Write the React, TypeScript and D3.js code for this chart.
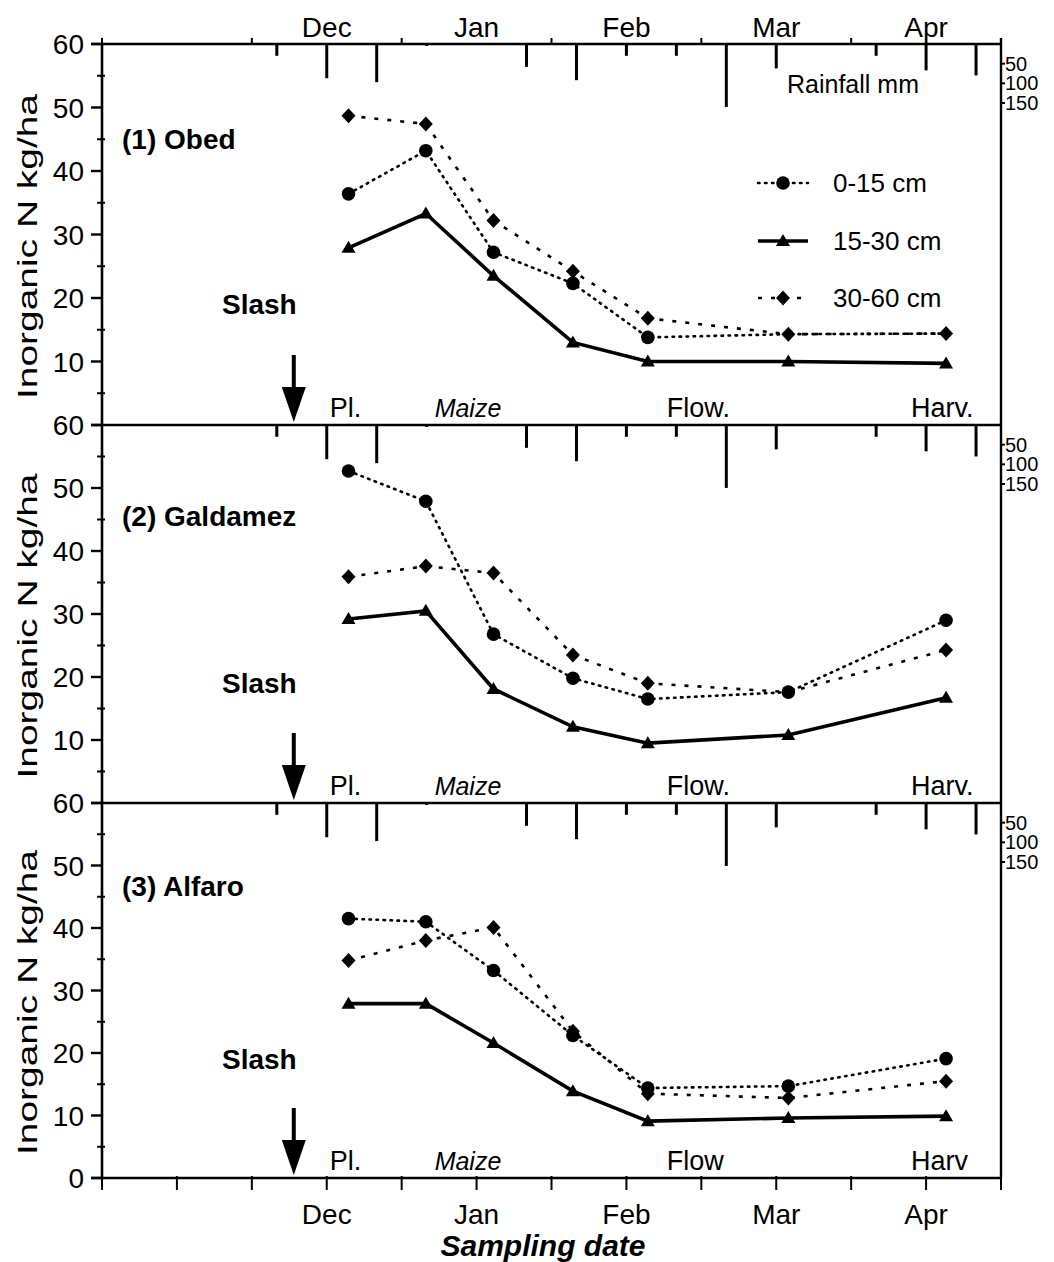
import React from "react";
import * as d3 from "d3";

// Months shown on the time axis (November .. April) and their lengths
const monthNames = ["Nov", "Dec", "Jan", "Feb", "Mar", "Apr"];
const monthDays = [30, 31, 31, 28, 31, 30];
const axisMonthLabels = ["Dec", "Jan", "Feb", "Mar", "Apr"];

// Soil sampling dates
const samplingDates = ["Dec 21", "Jan 6", "Jan 20", "Feb 5", "Feb 19", "Mar 19", "Apr 20"];

// Rainfall per 10-day period, Dec (1st dekad) .. Apr (3rd dekad)
const rainMonths = ["Dec", "Jan", "Feb", "Mar", "Apr"];
const rainfallMm = [30, 87, 97, 5, 0, 58, 92, 30, 30, 160, 62, 0, 30, 67, 80];
const rainTicks = [50, 100, 150];

// Inorganic N (kg/ha) by soil depth
const obed0to15 = [36.4, 43.2, 27.2, 22.3, 13.8, 14.3, 14.4];
const obed15to30 = [27.9, 33.3, 23.5, 13.0, 10.0, 10.0, 9.7];
const obed30to60 = [48.7, 47.4, 32.2, 24.2, 16.8, 14.3, 14.4];

const galdamez0to15 = [52.7, 47.9, 26.8, 19.8, 16.5, 17.6, 29.0];
const galdamez15to30 = [29.2, 30.5, 18.1, 12.1, 9.5, 10.8, 16.7];
const galdamez30to60 = [35.9, 37.6, 36.5, 23.5, 19.0, 17.6, 24.3];

const alfaro0to15 = [41.5, 41.0, 33.2, 22.8, 14.4, 14.7, 19.1];
const alfaro15to30 = [27.9, 27.9, 21.6, 13.9, 9.1, 9.6, 9.9];
const alfaro30to60 = [34.8, 38.0, 40.1, 23.5, 13.5, 12.8, 15.5];

const siteNames = ["(1) Obed", "(2) Galdamez", "(3) Alfaro"];
const depthLabels = ["0-15 cm", "15-30 cm", "30-60 cm"];
const stageLabels = [
  ["Pl.", "Maize", "Flow.", "Harv."],
  ["Pl.", "Maize", "Flow.", "Harv."],
  ["Pl.", "Maize", "Flow", "Harv"],
];
const yTickValues = [
  [10, 20, 30, 40, 50, 60],
  [10, 20, 30, 40, 50, 60],
  [0, 10, 20, 30, 40, 50, 60],
];

// ---- layout ----
const FONT = "'Liberation Sans', Arial, Helvetica, sans-serif";
const LEFT = 102;
const RIGHT = 1001;
const panelTop = [44, 425, 803];
const panelBottom = [425, 803, 1178];
const nameBaseline = [149, 526, 896];
const stageX = [1.52, 2.22, 3.77, 5.4]; // month positions of the crop-stage notes
const slashPos = 1.28;
// which depth's markers are stacked on top, per panel (later = on top)
const markerOrder = [
  [1, 0, 2],
  [1, 2, 0],
  [1, 2, 0],
];

function monthPos(label: string): number {
  const [name, day] = label.split(" ");
  const i = monthNames.indexOf(name);
  return i + (Number(day) - 1) / monthDays[i];
}

const x = d3.scaleLinear().domain([0, 6]).range([LEFT, RIGHT]);
const rainLen = d3.scaleLinear().domain([0, 150]).range([0, 59]);

const sampleX = samplingDates.map((d) => x(monthPos(d)));
const rainX = rainfallMm.map((_, i) => {
  const m = monthNames.indexOf(rainMonths[Math.floor(i / 3)]);
  return x(m + ((i % 3) + 0.5) / 3);
});

type Series = { values: number[]; kind: "circle" | "triangle" | "diamond" };
const panels: Series[][] = [
  [
    { values: obed0to15, kind: "circle" },
    { values: obed15to30, kind: "triangle" },
    { values: obed30to60, kind: "diamond" },
  ],
  [
    { values: galdamez0to15, kind: "circle" },
    { values: galdamez15to30, kind: "triangle" },
    { values: galdamez30to60, kind: "diamond" },
  ],
  [
    { values: alfaro0to15, kind: "circle" },
    { values: alfaro15to30, kind: "triangle" },
    { values: alfaro30to60, kind: "diamond" },
  ],
];

const lineStyle: Record<string, any> = {
  circle: { strokeWidth: 2.6, strokeDasharray: "1.5 5.5", strokeLinecap: "round" },
  triangle: { strokeWidth: 3.6 },
  diamond: { strokeWidth: 2.6, strokeDasharray: "4 9" },
};

function Marker({ kind, cx, cy }: { kind: string; cx: number; cy: number }) {
  if (kind === "circle") return <circle cx={cx} cy={cy} r={6.8} fill="#000" />;
  if (kind === "triangle")
    return <path d={`M${cx},${cy - 7}L${cx + 7},${cy + 5}L${cx - 7},${cy + 5}Z`} fill="#000" />;
  return <path d={`M${cx},${cy - 7.5}L${cx + 7},${cy}L${cx},${cy + 7.5}L${cx - 7},${cy}Z`} fill="#000" />;
}

function Panel({ idx }: { idx: number }) {
  const top = panelTop[idx];
  const bottom = panelBottom[idx];
  const y = d3.scaleLinear().domain([0, 60]).range([bottom, top]);
  const series = panels[idx];
  const order = markerOrder[idx];
  const line = d3
    .line<number>()
    .x((_, i) => sampleX[i])
    .y((v) => y(v));
  const minor = d3.range(5, 60, 10);
  const arrowX = x(slashPos);
  const stageBase = bottom - 8;

  // a marker that sits exactly under a marker drawn later is left out
  const covered = (pos: number, i: number) => {
    const v = series[order[pos]].values[i];
    return order.slice(pos + 1).some((o) => Math.abs(series[o].values[i] - v) < 0.05);
  };

  return (
    <g>
      {/* rainfall bars hanging from the top edge */}
      {rainfallMm.map((r, i) =>
        r > 0 ? (
          <line key={"r" + i} x1={rainX[i]} x2={rainX[i]} y1={top} y2={top + rainLen(r)} stroke="#000" strokeWidth={3} />
        ) : null
      )}
      {/* rainfall scale on the right */}
      {rainTicks.map((t) => (
        <g key={"rt" + t}>
          <line x1={RIGHT} x2={RIGHT + 4} y1={top + rainLen(t)} y2={top + rainLen(t)} stroke="#000" strokeWidth={2} />
          <text x={RIGHT + 4} y={top + rainLen(t) + 7} fontSize={20} fontFamily={FONT}>
            {t}
          </text>
        </g>
      ))}
      {/* left axis ticks and labels */}
      {yTickValues[idx].map((t) => (
        <g key={"yt" + t}>
          <line x1={LEFT - 11} x2={LEFT} y1={y(t)} y2={y(t)} stroke="#000" strokeWidth={2.4} />
          <text x={84} y={y(t) + 10} textAnchor="end" fontSize={28} fontFamily={FONT}>
            {t}
          </text>
        </g>
      ))}
      {minor.map((t) => (
        <line key={"ym" + t} x1={LEFT - 5} x2={LEFT + 3} y1={y(t)} y2={y(t)} stroke="#000" strokeWidth={2} />
      ))}
      <text
        transform={`translate(37,${(top + bottom) / 2 + 12}) rotate(-90)`}
        textAnchor="middle"
        fontSize={28}
        textLength={305}
        lengthAdjust="spacingAndGlyphs"
        fontFamily={FONT}
      >
        Inorganic N kg/ha
      </text>

      {/* series lines and markers */}
      {series.map((s, si) => (
        <path key={"l" + si} d={line(s.values) || ""} fill="none" stroke="#000" {...lineStyle[s.kind]} />
      ))}
      {order.map((si, pos) =>
        series[si].values.map((v, i) =>
          covered(pos, i) ? null : (
            <Marker key={"m" + si + "-" + i} kind={series[si].kind} cx={sampleX[i]} cy={y(v)} />
          )
        )
      )}

      {/* site name and slash annotation */}
      <text x={122} y={nameBaseline[idx]} fontSize={28} fontWeight="bold" fontFamily={FONT}>
        {siteNames[idx]}
      </text>
      <text x={222} y={y(17.5)} fontSize={28} fontWeight="bold" fontFamily={FONT}>
        Slash
      </text>
      <line x1={arrowX} x2={arrowX} y1={bottom - 70} y2={bottom - 36} stroke="#000" strokeWidth={4} />
      <path
        d={`M${arrowX - 12},${bottom - 38}L${arrowX + 12},${bottom - 38}L${arrowX},${bottom - 3}Z`}
        fill="#000"
      />

      {/* crop stage notes */}
      {stageLabels[idx].map((s, i) => (
        <text
          key={"st" + i}
          x={x(stageX[i])}
          y={stageBase}
          fontSize={i === 1 ? 25 : 27}
          fontStyle={i === 1 ? "italic" : "normal"}
          fontFamily={FONT}
        >
          {s}
        </text>
      ))}
    </g>
  );
}

function Legend() {
  const rows = [183, 241, 298];
  const kinds = ["circle", "triangle", "diamond"];
  return (
    <g>
      {kinds.map((k, i) => (
        <g key={k}>
          <line x1={758} x2={808} y1={rows[i]} y2={rows[i]} stroke="#000" {...lineStyle[k]} />
          <Marker kind={k} cx={783} cy={rows[i]} />
          <text x={833} y={rows[i] + 9} fontSize={26} fontFamily={FONT}>
            {depthLabels[i]}
          </text>
        </g>
      ))}
      <text x={787} y={93} fontSize={25} fontFamily={FONT}>
        Rainfall mm
      </text>
    </g>
  );
}

export default function App() {
  const halfMonths = d3.range(0, 13).map((k) => k / 2);
  return (
    <svg width={1054} height={1262} style={{ display: "block", position: "absolute", left: 0, top: 0 }}>
      <rect width={1054} height={1262} fill="#fff" />
      {/* frame */}
      <line x1={LEFT} x2={LEFT} y1={panelTop[0]} y2={panelBottom[2]} stroke="#000" strokeWidth={2.6} />
      <line x1={RIGHT} x2={RIGHT} y1={panelTop[0] - 6} y2={panelBottom[2]} stroke="#000" strokeWidth={2.4} />
      {[panelTop[0], panelTop[1], panelTop[2], panelBottom[2]].map((yy, i) => (
        <line key={"h" + i} x1={LEFT - 11} x2={RIGHT} y1={yy} y2={yy} stroke="#000" strokeWidth={2.6} />
      ))}
      {/* top month scale */}
      {d3.range(0, 7).map((k) => (
        <line key={"tt" + k} x1={x(k)} x2={x(k)} y1={panelTop[0]} y2={panelTop[0] - 6} stroke="#000" strokeWidth={2} />
      ))}
      {axisMonthLabels.map((m) => (
        <text
          key={"tm" + m}
          x={x(monthNames.indexOf(m) + 0.5)}
          y={37}
          textAnchor="middle"
          fontSize={28}
          fontFamily={FONT}
        >
          {m}
        </text>
      ))}
      {[0, 1, 2].map((i) => (
        <Panel key={i} idx={i} />
      ))}
      <Legend />
      {/* bottom time axis */}
      {halfMonths.map((k) => (
        <line
          key={"bt" + k}
          x1={x(k)}
          x2={x(k)}
          y1={panelBottom[2] - 2}
          y2={panelBottom[2] + 12}
          stroke="#000"
          strokeWidth={2}
        />
      ))}
      {axisMonthLabels.map((m) => (
        <text
          key={"bm" + m}
          x={x(monthNames.indexOf(m) + 0.5)}
          y={1224}
          textAnchor="middle"
          fontSize={28}
          fontFamily={FONT}
        >
          {m}
        </text>
      ))}
      <text x={543} y={1256} textAnchor="middle" fontSize={30} fontWeight="bold" fontStyle="italic" fontFamily={FONT}>
        Sampling date
      </text>
    </svg>
  );
}
